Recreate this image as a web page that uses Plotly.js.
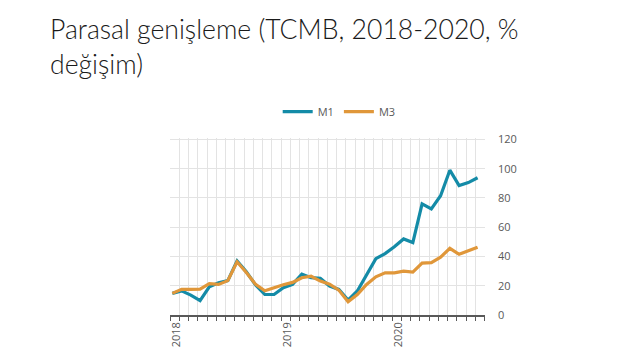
<!DOCTYPE html>
<html>
<head>
<meta charset="utf-8">
<script src="https://cdn.plot.ly/plotly-3.0.1.min.js"></script>
<style>html,body{margin:0;padding:0;background:#fff;}#chart{width:640px;height:360px;}</style>
</head>
<body>
<div id="chart"></div>
<script>
// Monthly, Jan 2018 - Oct 2020
const months = ["2018-01","2018-02","2018-03","2018-04","2018-05","2018-06","2018-07","2018-08","2018-09","2018-10","2018-11","2018-12",
"2019-01","2019-02","2019-03","2019-04","2019-05","2019-06","2019-07","2019-08","2019-09","2019-10","2019-11","2019-12",
"2020-01","2020-02","2020-03","2020-04","2020-05","2020-06","2020-07","2020-08","2020-09","2020-10"];
const m1 = [14.8,16.5,13.6,9.8,19.3,22.0,23.5,37.0,29.5,20.5,14.0,14.0,18.6,20.9,28.0,25.5,25.0,19.8,17.5,10.2,16.4,28.0,38.5,42.0,46.6,52.0,49.5,76.0,72.5,81.5,99.0,88.5,90.5,93.8];
const m3 = [14.8,17.5,17.5,17.7,21.4,20.9,23.5,36.4,29.1,20.9,16.6,18.9,20.7,22.3,25.5,26.5,23.2,21.1,17.0,9.0,14.0,20.9,26.1,28.8,28.8,30.0,29.3,35.5,35.8,39.5,45.6,41.5,44.0,46.3];
const yTicks = [0,20,40,60,80,100,120];
const yearLabels = ["2018","2019","2020"];
const titleText = "Parasal genişleme (TCMB, 2018-2020, %<br>değişim)";

const xIdx = months.map((_, i) => i);
const gridVals = months.map((_, i) => i - 0.25).concat([months.length - 0.25]);
const labelVals = yearLabels.map(y => months.indexOf(y + "-01") + 0.4);

const traces = [
  {x: xIdx, y: m1, name: "M1", type: "scatter", mode: "lines", line: {color: "#148BA7", width: 3.2}},
  {x: xIdx, y: m3, name: "M3", type: "scatter", mode: "lines", line: {color: "#E0973A", width: 3.2}},
  {x: [0], y: [null], xaxis: "x2", showlegend: false, hoverinfo: "skip", mode: "lines"}
];

const layout = {
  width: 640, height: 360,
  paper_bgcolor: "#fff", plot_bgcolor: "#fff",
  margin: {l: 170, r: 155, t: 138, b: 45},
  font: {family: "Open Sans, sans-serif", color: "#595959", size: 11},
  annotations: [{
    text: titleText, showarrow: false, align: "left",
    xref: "paper", yref: "paper", x: -0.387, xanchor: "left", y: 1.715, yanchor: "top",
    font: {family: "Lato, Open Sans, sans-serif", size: 26.6, color: "#1a1a1a", weight: 300}
  }],
  showlegend: true,
  legend: {orientation: "h", x: 0.53, xanchor: "center", xref: "container", y: 0.69, yref: "container", yanchor: "middle",
    font: {size: 11, color: "#595959"}, itemwidth: 30},
  xaxis: {
    range: [-0.25, months.length - 0.25 + 0.05],
    tickmode: "array", tickvals: gridVals, ticktext: gridVals.map(() => ""),
    showgrid: true, gridcolor: "#e3e3e3", gridwidth: 1,
    ticks: "outside", ticklen: 4, tickcolor: "#595959", tickwidth: 1,
    showline: true, linecolor: "#595959", linewidth: 1.5,
    zeroline: false, fixedrange: true
  },
  xaxis2: {
    overlaying: "x", matches: "x", range: [-0.25, months.length - 0.25 + 0.05],
    tickmode: "array", tickvals: labelVals, ticktext: yearLabels,
    tickangle: -90, showgrid: false, ticks: "", showline: false, zeroline: false,
    side: "bottom", anchor: "y", tickfont: {size: 11, color: "#595959"}, ticklabelstandoff: 4
  },
  yaxis: {
    range: [0, 121], side: "right",
    tickmode: "array", tickvals: yTicks,
    showgrid: true, gridcolor: "#e3e3e3", gridwidth: 1,
    zeroline: false, showline: false, ticks: "",
    ticklabelstandoff: 12, tickfont: {size: 11, color: "#595959"}
  }
};

Plotly.newPlot("chart", traces, layout, {displayModeBar: false, staticPlot: true});
</script>
</body>
</html>
